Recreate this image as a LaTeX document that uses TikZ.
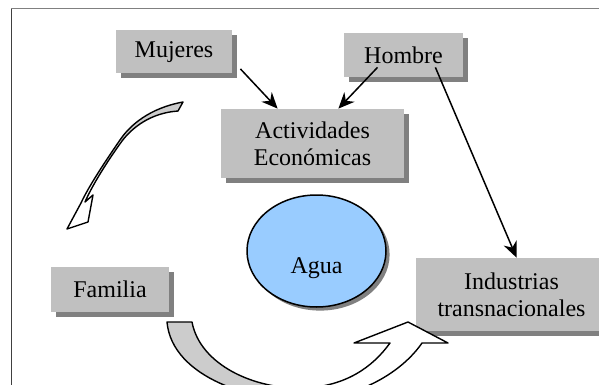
\documentclass[tikz,border=0pt]{standalone}
\usepackage{fontspec}
\setmainfont{Liberation Serif}
\usepackage{tikz}
\usetikzlibrary{arrows.meta,shadows,shapes.geometric}
\definecolor{boxgray}{HTML}{C0C0C0}
\definecolor{shadowgray}{HTML}{808080}
\definecolor{water}{HTML}{99CCFF}
\definecolor{bandgray}{HTML}{CCCCCC}
\tikzset{
    entity/.style={
           rectangle,
           fill=boxgray,
           inner sep=0pt,
           align=center,
           font=\fontsize{12}{13.5}\selectfont,
           drop shadow={shadow xshift=2.5pt,shadow yshift=-2.5pt,fill=shadowgray,opacity=1},
           },
    blockarrow/.style={draw=black, line width=0.7pt, line join=round},
}

\begin{document}
\begin{tikzpicture}[x=0.5pt,y=-0.5pt,->,>={Stealth[length=8pt,width=7pt]}]

 % canvas (pixel coordinates, y downwards)
 \useasboundingbox (0,0) rectangle (599,385);
 \clip (0,0) rectangle (599,385);
 \draw[-,draw=shadowgray,line width=0.8pt] (11.5,385) -- (11.5,8.5) -- (599,8.5);
 \draw[-,draw=black!75,line width=0.8pt] (11.5,385) -- (11.5,9);

 % the boxes
 \node[entity,minimum width=58pt,minimum height=21.5pt] (Mujeres) at (174,52) {Mujeres};
 \node[entity,minimum width=59.5pt,minimum height=22pt] (Hombre) at (403.5,55) {Hombre};
 \node[entity,
  minimum width=91.5pt,   % box size
  minimum height=34.5pt] (Actividades) at (312.5,143.5)
  {Actividades\\Económicas};
 \node[entity,minimum width=59pt,minimum height=22.5pt] (Familia) at (110,289.5) {Familia};
 \node[entity,
  minimum width=95.5pt,
  minimum height=36.5pt] (Industrias) at (511.5,294.5)
  {Industrias\\transnacionales};

 % water in the middle
 \node[ellipse,draw=black,line width=0.75pt,fill=water,
  minimum width=69.5pt,minimum height=56pt,inner sep=0pt,
  font=\fontsize{12}{13.5}\selectfont,
  drop shadow={shadow xshift=1.8pt,shadow yshift=-1.8pt,fill=shadowgray,opacity=1}] (Agua) at (316.5,251)
  {\raisebox{-11pt}[0pt][0pt]{Agua}};

 % straight arrows
 \draw[line width=0.75pt] ([xshift=4pt,yshift=2.5pt]Mujeres.south east) -- ([xshift=28.5pt]Actividades.north west);
 \draw[line width=0.75pt] ([xshift=-13pt,yshift=5pt]Hombre.south) -- ([xshift=-33pt]Actividades.north east);
 \draw[line width=0.75pt] ([xshift=-14pt,yshift=5pt]Hombre.south east) -- ([xshift=2.5pt]Industrias.north);

 % thin curved arrow on the left
 \fill[-,bandgray] (183,102) .. controls (150,108) and (130,125) .. (120,140)
   -- (122,141) .. controls (132,128) and (150,113) .. (178,111) -- cycle;
 \draw[-,blockarrow] (183,102) .. controls (150,108) and (130,125) .. (120,140)
   .. controls (102,166) and (88,188) .. (81,203)
   -- (67,229) -- (88,222) -- (93,195) -- (85,202)
   .. controls (91,188) and (104,166) .. (122,141)
   .. controls (132,128) and (150,113) .. (178,111) -- cycle;

 % wide curved arrow at the bottom
 \filldraw[-,blockarrow,fill=bandgray] (167,322) .. controls (172,378) and (255,403) .. (310,400)
   -- (305,388) .. controls (255,390) and (200,365) .. (192,322) -- cycle;
 \filldraw[-,blockarrow,fill=white] (310,400) .. controls (360,397) and (402,372) .. (422,343)
   -- (448,343) -- (408,322) -- (354,343) -- (390,343)
   .. controls (372,368) and (345,386) .. (305,388) -- cycle;

\end{tikzpicture}
\end{document}
